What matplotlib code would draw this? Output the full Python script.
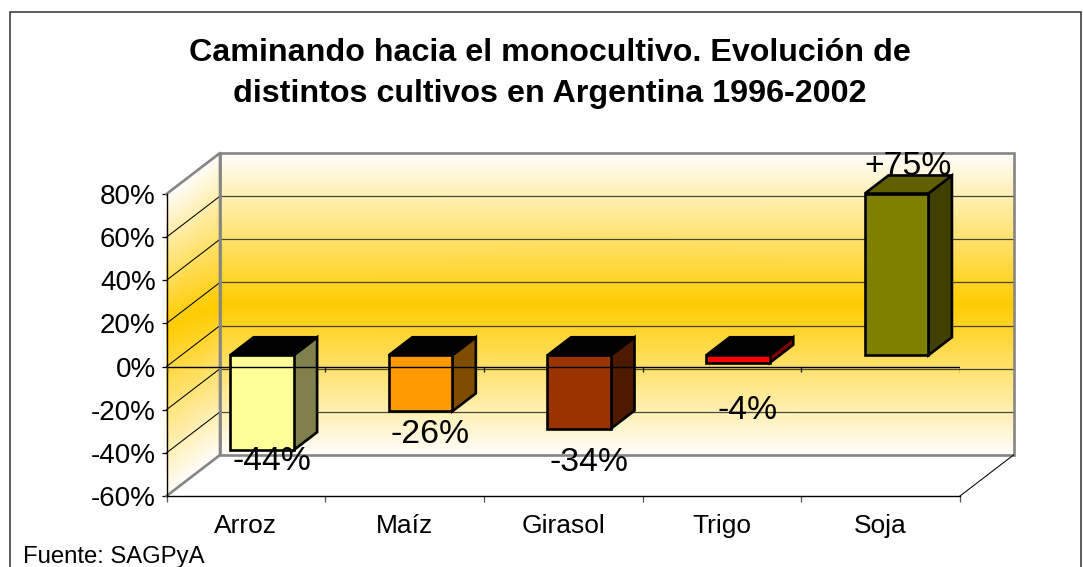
import matplotlib
matplotlib.use('Agg')
import numpy as np
import matplotlib.pyplot as plt
from matplotlib.colors import LinearSegmentedColormap
from matplotlib.patches import Polygon, Rectangle

categories = ['Arroz', 'Maíz', 'Girasol', 'Trigo', 'Soja']
values = [-44, -26, -34, -3.5, 75]
value_labels = ['-44%', '-26%', '-34%', '-4%', '+75%']
front_colors = ['#FFFF99', '#FF9900', '#993300', '#FF0000', '#808000']
side_colors = ['#80804D', '#804D00', '#4D1A00', '#800000', '#404000']
top_colors = ['#000000', '#000000', '#000000', '#000000', '#606000']
y_ticks = [-60, -40, -20, 0, 20, 40, 60, 80]

# hand placed labels in the original, pixels from the bar end
label_offsets = [(10, -20), (10, -32), (10, -42), (10, -56), (11, 19)]

W, H = 1083, 567
LEFT, RIGHT, TOP, BOTTOM = 166.5, 960, 194, 496
PX_X = (RIGHT - LEFT) / 5
PX_Y = (BOTTOM - TOP) / 140

# depth of the 3d box, in data units
DX = 53.5 / PX_X
DY = 41 / PX_Y
BAR_WIDTH = 63.5 / PX_X
BAR_FRONT = 0.275
BAR_BACK = 0.715

plt.rcParams['font.family'] = ['Liberation Sans', 'DejaVu Sans']

fig = plt.figure(figsize=(W / 100, H / 100), dpi=100)
fig.add_artist(Rectangle((9.5 / W, -0.02), (1080.5 - 9.5) / W, (555 + 11.4) / H, transform=fig.transFigure,
                         fill=False, edgecolor='#303030', linewidth=1.1))
ax = fig.add_axes([LEFT / W, 1 - BOTTOM / H, (RIGHT - LEFT) / W, (BOTTOM - TOP) / H])
ax.patch.set_visible(False)
ax.set_xlim(0, 5)
ax.set_ylim(-60, 80)

wall_cmap = LinearSegmentedColormap.from_list('wall', ['#FFFEFC', '#FFCC00'])
shade = np.array([[0, 0], [1, 1], [0, 0]])

# side wall, the bright band sits lower on the front edge
side_x = np.array([[0, DX]] * 3)
side_y = np.array([[-60, -60 + DY], [18.7, 10 + DY], [80, 80 + DY]])
m = ax.pcolormesh(side_x, side_y, shade, cmap=wall_cmap, shading='gouraud', zorder=1)
m.set_clip_on(False)

back_x = np.array([[DX, 5 + DX]] * 3)
back_y = np.array([[-60 + DY] * 2, [10 + DY] * 2, [80 + DY] * 2])
m = ax.pcolormesh(back_x, back_y, shade, cmap=wall_cmap, shading='gouraud', zorder=1)
m.set_clip_on(False)

for v in y_ticks[1:-1]:
    ax.plot([DX, 5 + DX], [v + DY, v + DY], color='#2a2a2a', linewidth=0.9, alpha=0.85, zorder=2, clip_on=False)
    ax.plot([0, DX], [v, v + DY], color='black', linewidth=0.75, zorder=2, clip_on=False)

# gray frame of the walls
gray = '#858585'
ax.plot([0, DX, DX, 0], [80, 80 + DY, -60 + DY, -60], color=gray, linewidth=1.9, zorder=2.2, clip_on=False)
ax.add_patch(Rectangle((DX, -60 + DY), 5, 140, fill=False, edgecolor=gray, linewidth=1.9, zorder=2.2, clip_on=False))
ax.plot([5, 5 + DX], [-60, -60 + DY], color='black', linewidth=0.75, zorder=2.2, clip_on=False)

for i, v in enumerate(values):
    low, high = min(v, 0), max(v, 0)
    x0 = i + 0.5 - BAR_WIDTH / 2 + 0.008
    x1 = x0 + BAR_WIDTH
    fx, fy = BAR_FRONT * DX, BAR_FRONT * DY
    bx, by = BAR_BACK * DX, BAR_BACK * DY
    front = [(x0 + fx, low + fy), (x1 + fx, low + fy), (x1 + fx, high + fy), (x0 + fx, high + fy)]
    side = [(x1 + fx, low + fy), (x1 + bx, low + by), (x1 + bx, high + by), (x1 + fx, high + fy)]
    top = [(x0 + fx, high + fy), (x1 + fx, high + fy), (x1 + bx, high + by), (x0 + bx, high + by)]
    for pts, col in [(side, side_colors[i]), (top, top_colors[i]), (front, front_colors[i])]:
        ax.add_patch(Polygon(pts, closed=True, facecolor=col, edgecolor='black', linewidth=1.9,
                             joinstyle='miter', zorder=3, clip_on=False))
    anchor = (x0 + fx + BAR_WIDTH / 2, (high if v > 0 else low) + fy)
    ax.annotate(value_labels[i], xy=anchor, xytext=label_offsets[i], textcoords='offset pixels',
                ha='center', va='baseline', fontsize=24.3, color='black', zorder=6, annotation_clip=False)

# zero axis runs in front of the bars
ax.plot([0, 5], [0, 0], color='black', linewidth=1.0, zorder=4)
ax.vlines(range(6), -2.4, 0, color='#202020', linewidth=1.0, zorder=4)

for side_name in ['top', 'right']:
    ax.spines[side_name].set_visible(False)
for side_name in ['left', 'bottom']:
    ax.spines[side_name].set_linewidth(1.0)
    ax.spines[side_name].set_zorder(2.5)

ax.set_yticks(y_ticks)
ax.set_yticklabels([str(v) + '%' for v in y_ticks], fontsize=20)
ax.tick_params(axis='y', length=3.6, width=0.9, pad=4.2)
ax.set_xticks(range(6))
ax.set_xticklabels([])
ax.set_xticks(np.arange(5) + 0.5, minor=True)
ax.set_xticklabels(categories, minor=True, fontsize=19)
ax.tick_params(axis='x', which='major', length=4, width=0.9, color='#555555')
ax.tick_params(axis='x', which='minor', length=0, pad=13)

fig.text(550 / W, 1 - 73.5 / H, 'Caminando hacia el monocultivo. Evolución de\ndistintos cultivos en Argentina 1996-2002',
         ha='center', va='center', fontsize=23.2, fontweight='bold', linespacing=1.45)
fig.text(23 / W, 1 - 562.5 / H, 'Fuente: SAGPyA', fontsize=17.2, ha='left', va='baseline')

fig.savefig('out.png', dpi=100)
